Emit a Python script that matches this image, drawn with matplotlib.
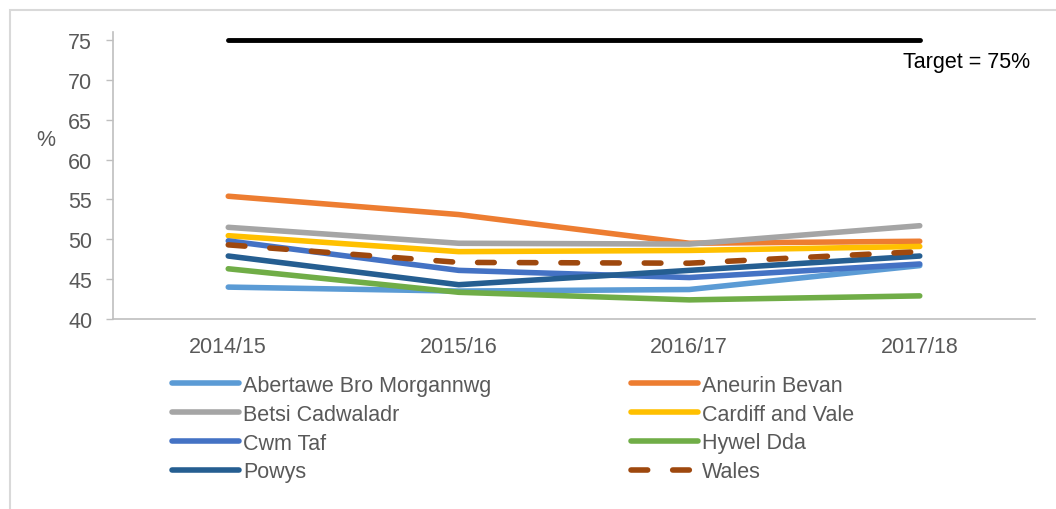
import numpy as np
import matplotlib
matplotlib.use('Agg')
import matplotlib.pyplot as plt
from matplotlib.patches import Rectangle

plt.rcParams['font.family'] = ['Liberation Sans', 'DejaVu Sans']

# data
years = ['2014/15', '2015/16', '2016/17', '2017/18']
abertawe = [44.0, 43.5, 43.7, 46.7]
aneurin = [55.4, 53.1, 49.5, 49.75]
betsi = [51.5, 49.5, 49.4, 51.7]
cardiff = [50.45, 48.45, 48.6, 49.1]
cwm_taf = [49.8, 46.1, 45.2, 46.9]
hywel = [46.3, 43.35, 42.4, 42.9]
powys = [47.9, 44.3, 46.1, 47.9]
wales = [49.3, 47.1, 47.0, 48.45]
target = [75, 75, 75, 75]

series = [
    ('Abertawe Bro Morgannwg', abertawe, '#5B9BD5'),
    ('Aneurin Bevan', aneurin, '#ED7D31'),
    ('Betsi Cadwaladr', betsi, '#A5A5A5'),
    ('Cardiff and Vale', cardiff, '#FFC000'),
    ('Cwm Taf', cwm_taf, '#4472C4'),
    ('Hywel Dda', hywel, '#70AD47'),
    ('Powys', powys, '#255E91'),
]

fig = plt.figure(figsize=(10.56, 5.1), dpi=100)
ax = fig.add_axes([113/1056, 1 - 320/510, (1035 - 113)/1056, (320 - 33)/510])

x = np.arange(len(years))
handles = {}
for name, vals, col in series:
    ln, = ax.plot(x, vals, color=col, lw=4, solid_capstyle='round', label=name)
    handles[name] = ln
ln, = ax.plot(x, wales, color='#9E480E', lw=4, dashes=(3, 4.5),
              dash_capstyle='round', label='Wales')
handles['Wales'] = ln
ax.plot(x, target, color='black', lw=3.5, solid_capstyle='round')
ax.text(2.926, 72.3, 'Target = 75%', fontsize=15.5, va='center', ha='left', color='black')

ax.set_xlim(-0.5, 3.5)
ax.set_ylim(40, 76)
ax.set_xticks(x)
ax.set_xticklabels(years)
ax.set_yticks(np.arange(40, 80, 5))
ax.tick_params(axis='x', length=0, pad=12, labelsize=15.5, labelcolor='#595959')
ax.tick_params(axis='y', length=5, width=1, color='#BFBFBF', pad=10, labelsize=15.5, labelcolor='#595959')
for s in ['top', 'right']:
    ax.spines[s].set_visible(False)
for s in ['left', 'bottom']:
    ax.spines[s].set_color('#BFBFBF')
    ax.spines[s].set_linewidth(1.2)

fig.text(46/1056, 1 - 141/510, '%', fontsize=15.5, color='#595959', ha='center', va='center')

order = ['Abertawe Bro Morgannwg', 'Betsi Cadwaladr', 'Cwm Taf', 'Powys',
         'Aneurin Bevan', 'Cardiff and Vale', 'Hywel Dda', 'Wales']
leg = fig.legend([handles[n] for n in order], order, ncol=2, frameon=False,
                 loc='upper left', bbox_to_anchor=(172/1056, 1 - 376/510),
                 borderpad=0, borderaxespad=0, handlelength=3.1, handletextpad=0.2,
                 columnspacing=6.5, labelspacing=0.36, fontsize=15.5)
for t in leg.get_texts():
    t.set_color('#595959')

# chart area border (only left/top visible in the crop)
fig.patches.append(Rectangle((10/1056, -0.1), 1.2, 1.1 - 11/510, transform=fig.transFigure,
                             fill=False, edgecolor='#D9D9D9', lw=1.5))

fig.savefig('out.png', dpi=100)
